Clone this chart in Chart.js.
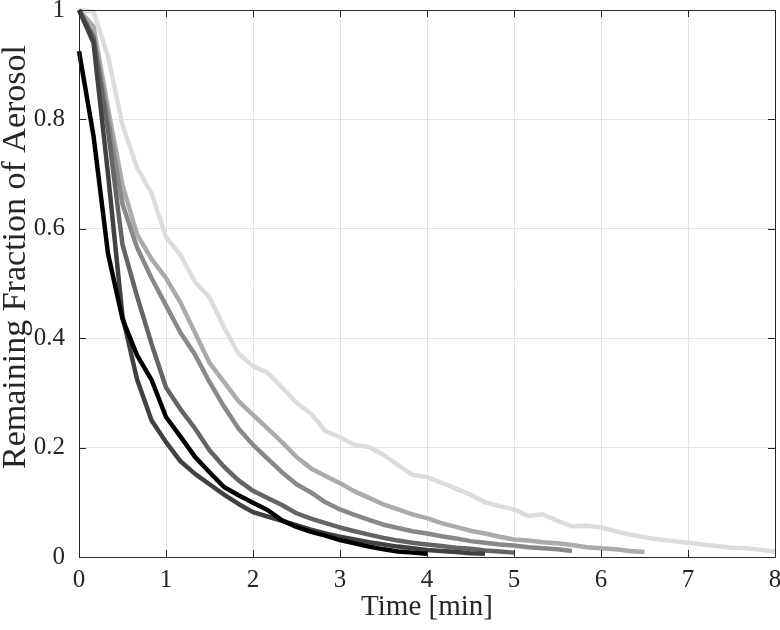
<!DOCTYPE html>
<html>
<head>
<meta charset="utf-8">
<script src="https://cdn.jsdelivr.net/npm/chart.js@4.4.1/dist/chart.umd.min.js"></script>
<style>
  html, body { margin: 0; padding: 0; background: #fff; }
  #wrap { width: 780px; height: 630px; }
</style>
</head>
<body>
<div id="wrap"><canvas id="aerosolChart" width="780" height="630"></canvas></div>
<script>
// Remaining aerosol fraction, one sample every 10 s (1/6 min)
const STEP_MIN = 1 / 6;

const run1 = [0.925, 0.77, 0.555, 0.435, 0.369, 0.324, 0.256, 0.22, 0.183, 0.155, 0.128, 0.113, 0.099,
  0.086, 0.067, 0.055, 0.046, 0.039, 0.031, 0.025, 0.019, 0.014, 0.010, 0.008, 0.006];
const run2 = [1.0, 0.94, 0.70, 0.44, 0.325, 0.25, 0.21, 0.175, 0.152, 0.133, 0.114, 0.097, 0.082,
  0.074, 0.066, 0.058, 0.05, 0.043, 0.037, 0.032, 0.027, 0.023, 0.019, 0.016, 0.013, 0.011, 0.009, 0.007, 0.006];
const run3 = [1.0, 0.95, 0.78, 0.571, 0.477, 0.39, 0.31, 0.27, 0.235, 0.195, 0.165, 0.14, 0.121,
  0.108, 0.095, 0.08, 0.07, 0.062, 0.054, 0.047, 0.041, 0.035, 0.03, 0.026, 0.023, 0.02, 0.017, 0.015,
  0.012, 0.010, 0.008];
const run4 = [1.0, 0.95, 0.80, 0.645, 0.566, 0.51, 0.46, 0.41, 0.37, 0.32, 0.275, 0.235, 0.205,
  0.18, 0.155, 0.133, 0.118, 0.1, 0.087, 0.077, 0.068, 0.059, 0.053, 0.047, 0.043, 0.038, 0.034, 0.029,
  0.026, 0.023, 0.021, 0.018, 0.016, 0.014, 0.011];
const run5 = [1.0, 0.97, 0.82, 0.68, 0.59, 0.545, 0.51, 0.465, 0.41, 0.355, 0.32, 0.285, 0.26,
  0.235, 0.21, 0.183, 0.162, 0.148, 0.135, 0.12, 0.108, 0.096, 0.087, 0.078, 0.071, 0.062, 0.055, 0.048,
  0.043, 0.037, 0.032, 0.03, 0.027, 0.025, 0.022, 0.018, 0.016, 0.014, 0.011, 0.009];
const run6 = [1.0, 0.997, 0.915, 0.79, 0.712, 0.665, 0.585, 0.552, 0.503, 0.475, 0.42, 0.372, 0.349,
  0.337, 0.31, 0.282, 0.262, 0.23, 0.219, 0.205, 0.201, 0.187, 0.168, 0.15, 0.146, 0.136, 0.125, 0.114,
  0.1, 0.093, 0.087, 0.075, 0.078, 0.066, 0.056, 0.057, 0.054, 0.047, 0.041, 0.036, 0.032, 0.029, 0.026,
  0.023, 0.02, 0.017, 0.016, 0.013, 0.010];

const runs = [run1, run2, run3, run4, run5, run6];
const runColors = ['#000000', '#414141', '#646464', '#888888', '#ababab', '#dcdcdc'];

const xTicks = [0, 1, 2, 3, 4, 5, 6, 7, 8];
const yTicks = [0, 0.2, 0.4, 0.6, 0.8, 1];
const yTitle = 'Remaining Fraction of Aerosol';

const AXIS_COLOR = '#262626';
const GRID_COLOR = '#e3e3e3';
const FONT = "'Liberation Serif', 'Times New Roman', serif";

function toPoints(values) {
  return values.map(function(v, i) { return { x: i * STEP_MIN, y: v }; });
}

// MATLAB style box with inward ticks on all four sides
const boxTicks = {
  id: 'boxTicks',
  afterDatasetsDraw(chart) {
    const ctx = chart.ctx;
    const a = chart.chartArea;
    const x = chart.scales.x;
    const y = chart.scales.y;
    const len = 7;
    ctx.save();
    ctx.strokeStyle = AXIS_COLOR;
    ctx.lineWidth = 1;
    ctx.beginPath();
    xTicks.forEach(function(v) {
      const px = Math.round(x.getPixelForValue(v)) + 0.5;
      ctx.moveTo(px, a.bottom); ctx.lineTo(px, a.bottom - len);
      ctx.moveTo(px, a.top); ctx.lineTo(px, a.top + len);
    });
    yTicks.forEach(function(v) {
      const py = Math.round(y.getPixelForValue(v)) + 0.5;
      ctx.moveTo(a.left, py); ctx.lineTo(a.left + len, py);
      ctx.moveTo(a.right, py); ctx.lineTo(a.right - len, py);
    });
    ctx.rect(Math.round(a.left) + 0.5, Math.round(a.top) + 0.5,
      Math.round(a.right - a.left), Math.round(a.bottom - a.top));
    ctx.stroke();

    // y label sits a little above the axis middle in the original
    ctx.translate(16, 257);
    ctx.rotate(-Math.PI / 2);
    ctx.fillStyle = AXIS_COLOR;
    ctx.font = '34px ' + FONT;
    ctx.textAlign = 'center';
    ctx.textBaseline = 'middle';
    ctx.fillText(yTitle, 0, 0);
    ctx.restore();
  }
};

const ctx = document.getElementById('aerosolChart').getContext('2d');

new Chart(ctx, {
  type: 'line',
  data: {
    datasets: runs.map(function(r, i) {
      return {
        label: 'Run ' + (i + 1),
        data: toPoints(r),
        borderColor: runColors[i],
        backgroundColor: runColors[i],
        borderWidth: 4.5,
        borderJoinStyle: 'round',
        borderCapStyle: 'butt',
        pointRadius: 0,
        tension: 0,
        fill: false,
        clip: 6
      };
    })
  },
  options: {
    responsive: false,
    animation: false,
    layout: { padding: { top: 10, right: 5, left: 0, bottom: 0 } },
    plugins: {
      legend: { display: false },
      tooltip: { enabled: false }
    },
    scales: {
      x: {
        type: 'linear',
        min: 0,
        max: 8,
        afterFit: function(scale) {
          scale.height = 73;
          scale.paddingLeft = 0;
          scale.paddingRight = 0;
        },
        afterBuildTicks: function(scale) { scale.ticks = xTicks.map(function(v) { return { value: v }; }); },
        grid: { color: GRID_COLOR, drawTicks: false },
        border: { display: false },
        ticks: {
          padding: 8,
          color: AXIS_COLOR,
          font: { family: FONT, size: 25 },
          maxRotation: 0
        },
        title: {
          display: true,
          text: 'Time [min]',
          color: AXIS_COLOR,
          font: { family: FONT, size: 29 },
          padding: { top: 0, bottom: 5 }
        }
      },
      y: {
        min: 0,
        max: 1,
        afterFit: function(scale) {
          scale.width = 79;
          scale.paddingTop = 0;
          scale.paddingBottom = 0;
        },
        afterBuildTicks: function(scale) { scale.ticks = yTicks.map(function(v) { return { value: v }; }); },
        grid: { color: GRID_COLOR, drawTicks: false },
        border: { display: false },
        ticks: {
          padding: 14,
          color: AXIS_COLOR,
          font: { family: FONT, size: 25 },
          callback: function(value) { return String(Math.round(value * 10) / 10); }
        }
      }
    }
  },
  plugins: [boxTicks]
});
</script>
</body>
</html>
